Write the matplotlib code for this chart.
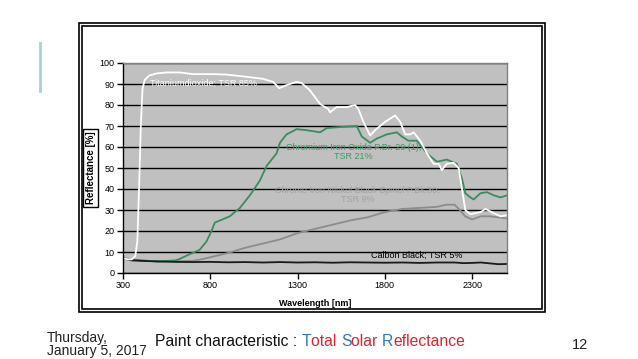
import matplotlib
matplotlib.use("Agg")
import matplotlib.pyplot as plt
from matplotlib.patches import Rectangle
from matplotlib.lines import Line2D

plt.rcParams['font.family'] = ['Liberation Sans', 'DejaVu Sans']

# ---- data ----
tio2_wl = [300, 330, 350, 370, 382, 392, 402, 412, 425, 450, 490, 550, 625, 700, 820, 890, 1000, 1100,
           1160, 1195, 1237, 1295, 1323, 1371, 1429, 1477, 1486, 1524, 1582, 1630, 1649, 1677, 1716,
           1744, 1773, 1802, 1859, 1888, 1917, 1946, 1965, 2003, 2041, 2079, 2108, 2127, 2155, 2194,
           2223, 2242, 2261, 2290, 2348, 2377, 2424, 2463, 2500]
tio2_r = [7, 6.5, 6.5, 8, 15, 40, 70, 88, 92, 94, 95, 95.5, 95.5, 94.7, 94.7, 94.5, 93.5, 92.5,
          91, 88, 89.5, 91, 90.5, 87, 80.5, 78, 76.5, 79, 79, 80, 78, 72, 65.5,
          68, 70, 72, 75, 72, 66, 66, 67, 63, 57, 52, 52, 49, 52, 52.5,
          50, 40, 30, 28, 29, 30.5, 28.5, 27, 27.5]

cio_wl = [300, 400, 500, 600, 625, 683, 739, 778, 807, 826, 855, 912, 970, 1027, 1084, 1123, 1180,
          1199, 1237, 1295, 1352, 1390, 1429, 1467, 1543, 1639, 1668, 1716, 1754, 1811, 1869, 1897,
          1935, 1983, 2041, 2098, 2155, 2213, 2242, 2261, 2290, 2309, 2348, 2385, 2424, 2463, 2500]
cio_r = [7, 6, 5.5, 6, 6.7, 9, 11, 15, 20, 24, 25, 27, 31, 37, 44, 51, 57,
         62, 66, 68.5, 68, 67.5, 67, 69, 69.5, 70, 65, 62, 64, 66, 67, 65,
         63, 63, 57, 53, 54, 52, 45, 38, 36, 35, 38, 38.5, 37, 36, 37]

spinel_wl = [300, 400, 500, 600, 700, 750, 800, 900, 1000, 1100, 1200, 1300, 1400, 1500, 1600, 1700,
             1800, 1900, 2000, 2100, 2150, 2200, 2230, 2260, 2300, 2350, 2400, 2450, 2500]
spinel_r = [7, 6, 5.5, 5.6, 5.8, 6.5, 7.5, 9.5, 12, 14, 16, 19, 21, 23, 25, 26.5,
            29, 30.5, 31, 31.5, 32.5, 32.5, 30, 27, 25.5, 27, 27, 26.5, 26]

carbon_wl = [300, 350, 400, 500, 600, 700, 800, 900, 1000, 1100, 1200, 1300, 1400, 1500, 1600, 1700,
             1800, 1900, 2000, 2100, 2200, 2250, 2300, 2350, 2400, 2450, 2500]
carbon_r = [7, 6, 5.8, 5.5, 5.3, 5.2, 5.3, 5.1, 5.2, 5.0, 5.2, 5.0, 5.1, 4.9, 5.1, 5.0,
            4.9, 5.0, 4.8, 5.0, 5.0, 4.7, 4.8, 5.0, 4.6, 4.2, 4.3]

x_ticks = [300, 800, 1300, 1800, 2300]
y_ticks = list(range(0, 101, 10))

W, H = 638, 359
fig = plt.figure(figsize=(W / 100, H / 100), dpi=100)

def fx(px):
    return px / W

def fy(py):
    return 1 - py / H

# outer double frame
for (x0, y0, x1, y1) in [(78.5, 22.5, 544.5, 311.5), (81.5, 25.5, 541.5, 308.5)]:
    fig.add_artist(Rectangle((fx(x0), fy(y1)), fx(x1) - fx(x0), fy(y0) - fy(y1),
                             transform=fig.transFigure, fill=False, edgecolor='black', lw=1.2))

# decorative light-blue bar at left
fig.add_artist(Line2D([fx(40), fx(40)], [fy(43), fy(91)], transform=fig.transFigure,
                      color='#a9d0d8', lw=2))

ax = fig.add_axes([fx(123), fy(273), fx(507) - fx(123), fy(63) - fy(273)])
ax.set_facecolor('#c0c0c0')
for s in ax.spines.values():
    s.set_color('#808080')
    s.set_linewidth(1)
ax.spines['left'].set_color('black')
ax.spines['bottom'].set_color('black')

ax.set_xlim(300, 2500)
ax.set_ylim(0, 100)
ax.set_xticks(x_ticks)
ax.set_yticks(y_ticks)
ax.tick_params(direction='out', length=4, width=1, labelsize=6.5, colors='black', pad=2)
ax.yaxis.grid(True, color='black', lw=1)
ax.set_axisbelow(True)

ax.plot(spinel_wl, spinel_r, color='#8c8c8c', lw=1.3)
ax.plot(cio_wl, cio_r, color='#3a8c5c', lw=1.3)
ax.plot(carbon_wl, carbon_r, color='#1a1a1a', lw=1.3)
ax.plot(tio2_wl, tio2_r, color='white', lw=1.3)

ax.text(452, 90.5, 'Titaniumdioxide; TSR 85%', color='white', fontsize=6.5, va='center', ha='left')
ax.text(1620, 57.5, 'Chromium Iron Oxide P.Br. 29 (1);\nTSR 21%', color='#3a9a66', fontsize=6.5,
        va='center', ha='center', linespacing=1.0)
ax.text(1645, 37, 'Chrome Iron Nickel Black Spinel P.Bk.30;\nTSR 9%', color='#a3a3a3', fontsize=6.5,
        va='center', ha='center', linespacing=1.0)
ax.text(1985, 8.5, 'Calbon Black; TSR 5%', color='black', fontsize=6.5, va='center', ha='center')

ax.set_xlabel('Wavelength [nm]', fontsize=6.5, fontweight='bold', labelpad=6)
fig.text(fx(90.5), fy(168), 'Reflectance [%]', rotation=90, fontsize=7, fontweight='bold',
         ha='center', va='center',
         bbox=dict(boxstyle='square,pad=0.25', facecolor='white', edgecolor='black', lw=1))

# footer
fig.text(fx(47), fy(338), 'Thursday,', fontsize=10, ha='left', va='center', color='#222222')
fig.text(fx(47), fy(351), 'January 5, 2017', fontsize=10, ha='left', va='center', color='#222222')
fig.text(fx(580), fy(345), '12', fontsize=10.5, ha='center', va='center', color='#222222')

blue = '#2f78b4'
red = '#d7262e'
pieces = [('Paint characteristic : ', '#111111'), ('T', blue), ('otal ', red), ('S', blue),
          ('olar ', red), ('R', blue), ('eflectance', red)]
fig.canvas.draw()
renderer = fig.canvas.get_renderer()
xpos = 155
for txt, col in pieces:
    t = fig.text(fx(xpos), fy(342), txt, fontsize=11.3, ha='left', va='center', color=col)
    bb = t.get_window_extent(renderer=renderer)
    xpos += bb.width

fig.savefig('out.png', dpi=100)
